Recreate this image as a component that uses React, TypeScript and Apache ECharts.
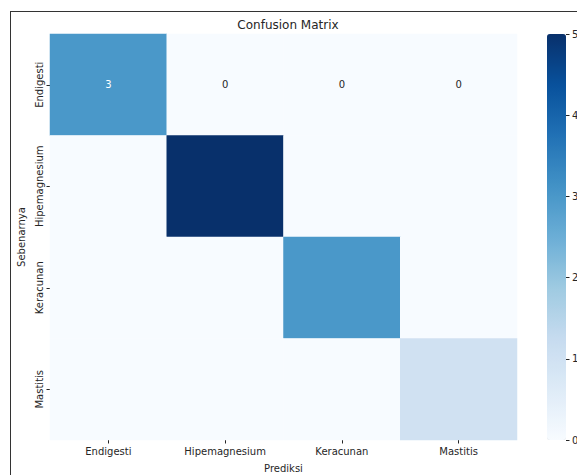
import React, { useEffect, useRef } from "react";
import * as echarts from "echarts";

const predicted = ["Endigesti", "Hipemagnesium", "Keracunan", "Mastitis"];
const actual = ["Endigesti", "Hipemagnesium", "Keracunan", "Mastitis"];
// matrix[row = actual][col = predicted]
const matrix = [
  [3, 0, 0, 0],
  [0, 5, 0, 0],
  [0, 0, 3, 0],
  [0, 0, 0, 1],
];
// only the first row carries visible annotations in the reference
const annotatedRows = [0];
const colorbarTicks = [0, 1, 2, 3, 4, 5];
const blues = ["#f7fbff", "#deebf7", "#c6dbef", "#9ecae1", "#6baed6", "#4292c6", "#2171b5", "#08519c", "#08306b"];

const FONT = "DejaVu Sans";

export default function App() {
  const ref = useRef<HTMLDivElement>(null);
  useEffect(() => {
    if (!ref.current) return;
    const chart = echarts.init(ref.current, undefined, { renderer: "svg" });
    const vmin = Math.min(...colorbarTicks);
    const vmax = Math.max(...colorbarTicks);
    const data: any[] = [];
    matrix.forEach((row, r) =>
      row.forEach((v, c) =>
        data.push({
          value: [c, r, v],
          label: { color: v > (vmax + vmin) / 2 ? "#ffffff" : "#262626" },
        })
      )
    );
    chart.setOption({
      animation: false,
      backgroundColor: "#ffffff",
      title: {
        text: "Confusion Matrix",
        left: 283,
        textAlign: "center",
        top: 14,
        textStyle: { fontFamily: FONT, fontSize: 12, fontWeight: "normal", color: "#262626" },
      },
      grid: [
        { left: 50, top: 34, width: 467, height: 406, outerBoundsMode: "none", containLabel: false },
        { left: 547, top: 34, width: 19, height: 406, outerBoundsMode: "none", containLabel: false },
      ],
      xAxis: [
        {
          type: "category",
          gridIndex: 0,
          data: predicted,
          name: "Prediksi",
          nameLocation: "middle",
          nameGap: 23,
          nameTextStyle: { fontFamily: FONT, fontSize: 10, color: "#262626" },
          axisLine: { show: false },
          axisTick: { show: true, alignWithLabel: true, interval: 0, length: 3.5, lineStyle: { color: "#262626" } },
          axisLabel: { fontFamily: FONT, fontSize: 10, color: "#262626", margin: 6, interval: 0 },
          splitLine: { show: false },
        },
        {
          type: "value",
          gridIndex: 1,
          min: 0,
          max: 1,
          show: false,
        },
      ],
      yAxis: [
        {
          type: "category",
          gridIndex: 0,
          data: actual,
          inverse: true,
          name: "Sebenarnya",
          nameLocation: "middle",
          nameGap: 23,
          nameRotate: 90,
          nameTextStyle: { fontFamily: FONT, fontSize: 10, color: "#262626" },
          axisLine: { show: false },
          axisTick: { show: true, alignWithLabel: true, interval: 0, length: 3.5, lineStyle: { color: "#262626" } },
          axisLabel: { fontFamily: FONT, fontSize: 10, color: "#262626", rotate: 90, margin: 6, interval: 0 },
          splitLine: { show: false },
        },
        {
          type: "value",
          gridIndex: 1,
          position: "right",
          min: vmin,
          max: vmax,
          interval: 1,
          axisLine: { show: false, onZero: false },
          axisTick: { show: true, length: 3.5, lineStyle: { color: "#262626" } },
          axisLabel: { fontFamily: FONT, fontSize: 10, color: "#262626", margin: 6 },
          splitLine: { show: false },
        },
      ],
      visualMap: {
        type: "continuous",
        min: vmin,
        max: vmax,
        seriesIndex: 0,
        calculable: false,
        hoverLink: false,
        orient: "vertical",
        left: 547,
        top: 34,
        itemWidth: 19,
        itemHeight: 406,
        padding: 0,
        text: null,
        showLabel: false,
        inRange: { color: blues },
      },
      series: [
        {
          type: "heatmap",
          xAxisIndex: 0,
          yAxisIndex: 0,
          data,
          itemStyle: { borderWidth: 0 },
          label: {
            show: true,
            fontFamily: FONT,
            fontSize: 10,
            formatter: (p: any) => (annotatedRows.includes(p.value[1]) ? String(p.value[2]) : ""),
          },
          emphasis: { disabled: true },
        },
      ],
      graphic: [
        { type: "line", shape: { x1: 10.5, y1: 11, x2: 10.5, y2: 475 }, style: { stroke: "#333", lineWidth: 1 } },
        { type: "line", shape: { x1: 10, y1: 11.5, x2: 577, y2: 11.5 }, style: { stroke: "#333", lineWidth: 1 } },
      ],
    });
    return () => chart.dispose();
  }, []);
  return (
    <div
      ref={ref}
      style={{ position: "fixed", left: 0, top: 0, width: 577, height: 475 }}
    />
  );
}
